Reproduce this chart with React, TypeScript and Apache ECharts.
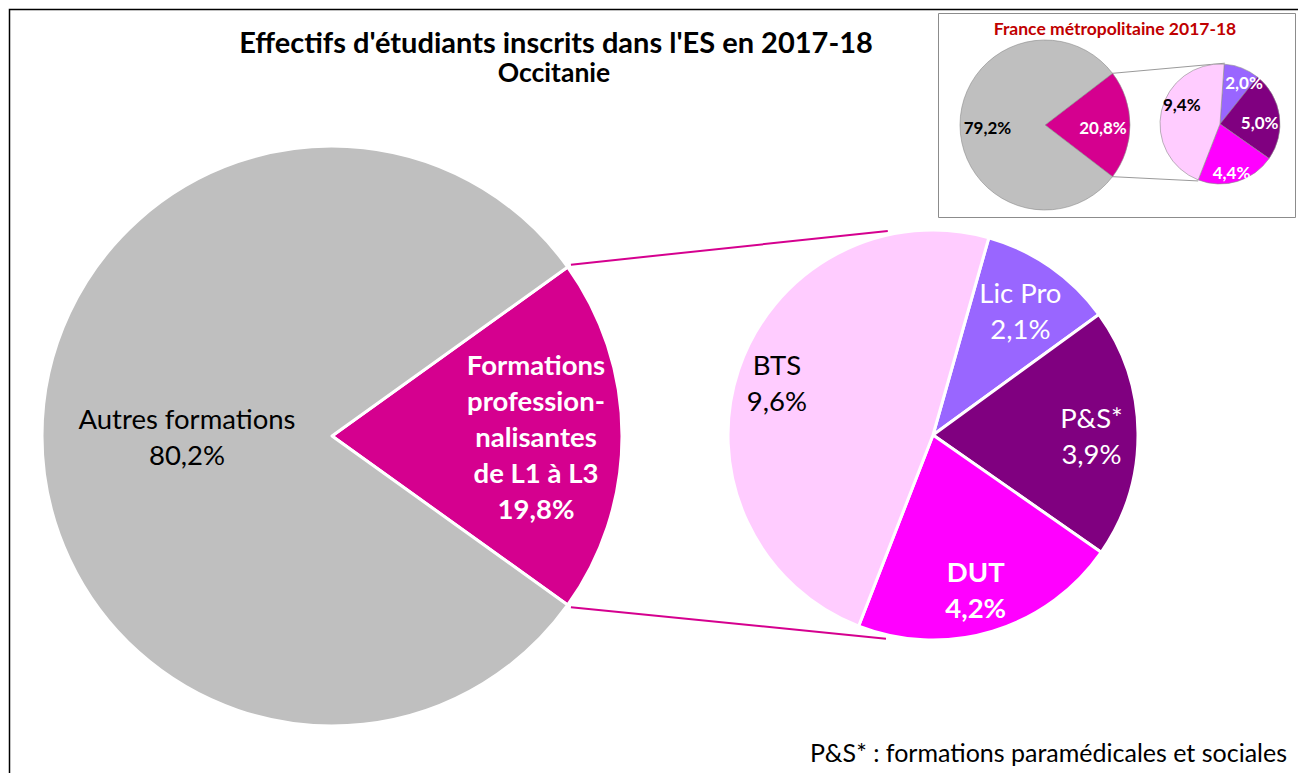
import React, { useEffect, useRef } from 'react';
import * as echarts from 'echarts';

// ---------- DATA ----------
const mainCategories = ['Formations professionnalisantes de L1 à L3', 'Autres formations'];
const mainLabelNames = ['Formations\nprofession-\nnalisantes\nde L1 à L3', 'Autres formations'];
const mainValues = [19.8, 80.2];

const subCategories = ['Lic Pro', 'P&S*', 'DUT', 'BTS'];
const subValues = [2.1, 3.9, 4.2, 9.6];

const franceMainValues = [20.8, 79.2];
const franceSubCategories = ['Lic Pro', 'P&S*', 'DUT', 'BTS'];
const franceSubValues = [2.0, 5.0, 4.4, 9.4];

const titleText = "Effectifs d'étudiants inscrits dans l'ES en 2017-18";
const subtitleText = 'Occitanie';
const insetTitle = 'France métropolitaine 2017-18';
const footnote = 'P&S* : formations paramédicales et sociales';

// ---------- STYLE / LAYOUT ----------
const FONT = 'Lato, "Open Sans", sans-serif';
const GRAY = '#BFBFBF';
const MAGENTA = '#D5008F';
const subColors = ['#9966FF', '#800080', '#FF00FF', '#FFCCFF'];
const subLabelColors = ['#fff', '#fff', '#fff', '#000'];
const subLabelBold = [false, false, true, false];

const fmt = (v: number) => v.toFixed(1).replace('.', ',') + '%';

// main pies geometry
const M = { cx: 332, cy: 436, r: 290 };
const S = { cx: 933, cy: 435, r: 205, start: 74.2 };
const IM = { cx: 1045, cy: 125, r: 85 };
const IS = { cx: 1220, cy: 124, r: 60, start: 86 };

const mainLabelShift = [[56, 0], [3, 0]];
const subLabelShift = [[27, -38], [53, 2], [12, 54], [-56, -19]];
const insetMainShift = [[12.5, 2], [-12, 2]];
const insetSubShift = [[12, -11], [7, 3], [2, 17], [-6, -12]];

const pt = (c: { cx: number; cy: number }, r: number, deg: number) => {
  const a = (deg * Math.PI) / 180;
  return [c.cx + r * Math.cos(a), c.cy - r * Math.sin(a)];
};

export default function App() {
  const ref = useRef<HTMLDivElement>(null);

  useEffect(() => {
    if (!ref.current) return;
    const chart = echarts.init(ref.current, null, { renderer: 'svg' });

    const mainTotal = mainValues.reduce((a, b) => a + b, 0);
    const mainHalf = (mainValues[0] / mainTotal) * 360 / 2;
    const fTotal = franceMainValues.reduce((a, b) => a + b, 0);
    const fHalf = (franceMainValues[0] / fTotal) * 360 / 2;

    const p1 = pt(M, M.r + 4, mainHalf);
    const p2 = pt(S, S.r + 4, 102.5);
    const p3 = pt(M, M.r + 4, -mainHalf);
    const p4 = pt(S, S.r + 4, -103);

    const q1 = pt(IM, IM.r, fHalf);
    const q2 = pt(IS, IS.r + 1, 85.5);
    const q3 = pt(IM, IM.r, -fHalf);
    const q4 = pt(IS, IS.r + 1, -111);

    const option: any = {
      animation: false,
      backgroundColor: '#fff',
      graphic: [
        { type: 'rect', shape: { x: 9.5, y: 9.5, width: 1400, height: 900 }, style: { fill: 'none', stroke: '#000', lineWidth: 1.5 }, silent: true },
        { type: 'rect', shape: { x: 938.5, y: 13.5, width: 357, height: 204 }, style: { fill: '#fff', stroke: '#8c8c8c', lineWidth: 1 }, silent: true, z: -1 },
        { type: 'text', x: 556, y: 41, style: { text: titleText, font: `bold 29px ${FONT}`, fill: '#000', align: 'center', verticalAlign: 'middle' } },
        { type: 'text', x: 554, y: 72, style: { text: subtitleText, font: `bold 26.5px ${FONT}`, fill: '#000', align: 'center', verticalAlign: 'middle' } },
        { type: 'text', x: 1115, y: 28, style: { text: insetTitle, font: `bold 17.5px ${FONT}`, fill: '#C00000', align: 'center', verticalAlign: 'middle' } },
        { type: 'text', x: 1287, y: 752, style: { text: footnote, font: `25px ${FONT}`, fill: '#000', align: 'right', verticalAlign: 'middle' } },
        { type: 'line', shape: { x1: p1[0], y1: p1[1], x2: p2[0], y2: p2[1] }, style: { stroke: MAGENTA, lineWidth: 2 }, silent: true },
        { type: 'line', shape: { x1: p3[0], y1: p3[1], x2: p4[0], y2: p4[1] }, style: { stroke: MAGENTA, lineWidth: 2 }, silent: true },
        { type: 'line', shape: { x1: q1[0], y1: q1[1], x2: q2[0], y2: q2[1] }, style: { stroke: '#9a9a9a', lineWidth: 1 }, silent: true },
        { type: 'line', shape: { x1: q3[0], y1: q3[1], x2: q4[0], y2: q4[1] }, style: { stroke: '#9a9a9a', lineWidth: 1 }, silent: true },
      ],
      series: [
        {
          type: 'pie',
          silent: true,
          center: [M.cx, M.cy],
          radius: M.r,
          startAngle: mainHalf,
          clockwise: true,
          avoidLabelOverlap: false,
          itemStyle: { borderColor: '#fff', borderWidth: 3 },
          label: { show: true, position: 'inside', fontFamily: FONT, fontSize: 27.5, lineHeight: 36 },
          labelLine: { show: false },
          labelLayout: (p: any) => ({ dx: mainLabelShift[p.dataIndex][0], dy: mainLabelShift[p.dataIndex][1] }),
          data: mainValues.map((v, i) => ({
            name: mainCategories[i],
            value: v,
            itemStyle: { color: i === 0 ? MAGENTA : GRAY },
            label: {
              formatter: mainLabelNames[i] + '\n' + fmt(v),
              color: i === 0 ? '#fff' : '#000',
              fontWeight: i === 0 ? 'bold' : 'normal',
            },
          })),
        },
        {
          type: 'pie',
          silent: true,
          center: [S.cx, S.cy],
          radius: S.r,
          startAngle: S.start,
          clockwise: true,
          avoidLabelOverlap: false,
          itemStyle: { borderColor: '#fff', borderWidth: 3 },
          label: { show: true, position: 'inside', fontFamily: FONT, fontSize: 27.5, lineHeight: 36 },
          labelLine: { show: false },
          labelLayout: (p: any) => ({ dx: subLabelShift[p.dataIndex][0], dy: subLabelShift[p.dataIndex][1] }),
          data: subValues.map((v, i) => ({
            name: subCategories[i],
            value: v,
            itemStyle: { color: subColors[i] },
            label: {
              formatter: subCategories[i] + '\n' + fmt(v),
              color: subLabelColors[i],
              fontWeight: subLabelBold[i] ? 'bold' : 'normal',
            },
          })),
        },
        {
          type: 'pie',
          silent: true,
          center: [IM.cx, IM.cy],
          radius: IM.r,
          startAngle: fHalf,
          clockwise: true,
          avoidLabelOverlap: false,
          itemStyle: { borderColor: '#8c8c8c', borderWidth: 0.6 },
          label: { show: true, position: 'inside', fontFamily: FONT, fontSize: 17, fontWeight: 'bold' },
          labelLine: { show: false },
          labelLayout: (p: any) => ({ dx: insetMainShift[p.dataIndex][0], dy: insetMainShift[p.dataIndex][1] }),
          data: franceMainValues.map((v, i) => ({
            name: mainCategories[i],
            value: v,
            itemStyle: { color: i === 0 ? MAGENTA : GRAY },
            label: { formatter: fmt(v), color: i === 0 ? '#fff' : '#000' },
          })),
        },
        {
          type: 'pie',
          silent: true,
          center: [IS.cx, IS.cy],
          radius: IS.r,
          startAngle: IS.start,
          clockwise: true,
          avoidLabelOverlap: false,
          itemStyle: { borderColor: '#8c8c8c', borderWidth: 0.6 },
          label: { show: true, position: 'inside', fontFamily: FONT, fontSize: 17, fontWeight: 'bold' },
          labelLine: { show: false },
          labelLayout: (p: any) => ({ dx: insetSubShift[p.dataIndex][0], dy: insetSubShift[p.dataIndex][1] }),
          data: franceSubValues.map((v, i) => ({
            name: franceSubCategories[i],
            value: v,
            itemStyle: { color: subColors[i] },
            label: { formatter: fmt(v), color: subLabelColors[i] },
          })),
        },
      ],
    };

    chart.setOption(option);
    return () => chart.dispose();
  }, []);

  return (
    <div
      ref={ref}
      style={{ position: 'fixed', left: 0, top: 0, width: 1298, height: 773, background: '#fff' }}
    />
  );
}
